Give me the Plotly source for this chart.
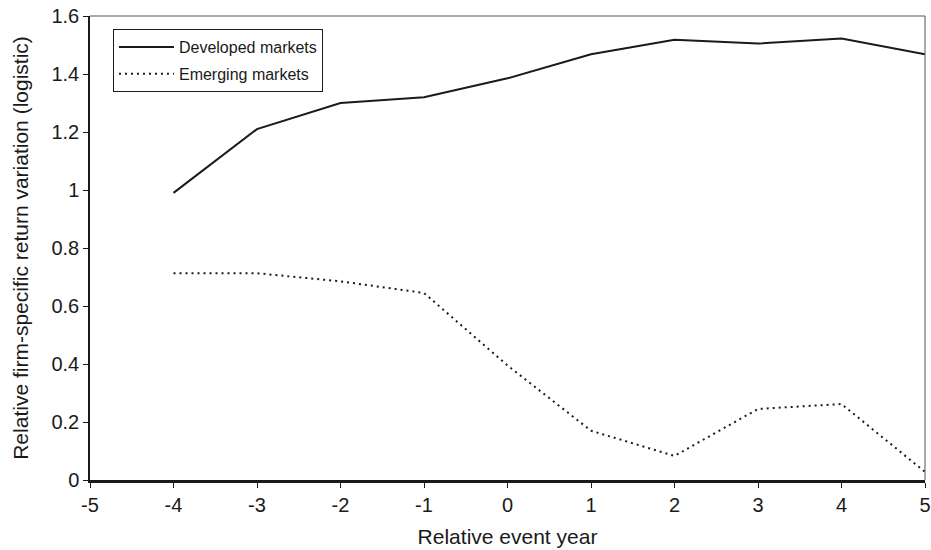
import plotly.graph_objects as go

years = [-4, -3, -2, -1, 0, 1, 2, 3, 4, 5]
developed = [0.99, 1.21, 1.30, 1.32, 1.385, 1.468, 1.518, 1.505, 1.522, 1.468]
emerging = [0.713, 0.713, 0.685, 0.645, 0.395, 0.17, 0.083, 0.245, 0.262, 0.028]

x_tickvals = [-5, -4, -3, -2, -1, 0, 1, 2, 3, 4, 5]
x_ticktext = ["-5", "-4", "-3", "-2", "-1", "0", "1", "2", "3", "4", "5"]
y_tickvals = [0, 0.2, 0.4, 0.6, 0.8, 1, 1.2, 1.4, 1.6]
y_ticktext = ["0", "0.2", "0.4", "0.6", "0.8", "1", "1.2", "1.4", "1.6"]

fig = go.Figure()
fig.add_trace(go.Scatter(x=years, y=developed, mode="lines", name="Developed markets",
                         legendgroup="dev",
                         line=dict(color="#1a1a1a", width=2)))
fig.add_trace(go.Scatter(x=years, y=emerging, mode="lines", name="Emerging markets",
                         legendgroup="emg",
                         line=dict(color="#1a1a1a", width=2, dash="2px,4px")))

font = "Liberation Sans, Arial, sans-serif"
fig.update_layout(
    width=931, height=550,
    margin=dict(l=90, r=6, t=16, b=70),
    paper_bgcolor="white", plot_bgcolor="white",
    font=dict(family=font, size=20, color="#1a1a1a"),
    showlegend=True,
    legend=dict(x=0.0275, y=0.972, xanchor="left", yanchor="top",
                bgcolor="white", bordercolor="#1a1a1a", borderwidth=1,
                font=dict(size=16, family=font), tracegroupgap=3,
                itemwidth=55),
    xaxis=dict(range=[-5, 5], tickvals=x_tickvals, ticktext=x_ticktext,
               showgrid=False, zeroline=False, showline=True, linecolor="#1a1a1a",
               linewidth=2.5, ticks="outside", ticklen=5, tickcolor="#1a1a1a",
               automargin=False, tickfont=dict(size=20), ticklabeloverflow="allow",
               title=dict(text="Relative event year", font=dict(size=21), standoff=15)),
    yaxis=dict(range=[0, 1.6], tickvals=y_tickvals, ticktext=y_ticktext,
               showgrid=False, zeroline=False, showline=True, linecolor="#1a1a1a",
               linewidth=1.5, ticks="outside", ticklen=5, tickcolor="#1a1a1a",
               automargin=False, tickfont=dict(size=20), ticklabeloverflow="allow",
               title=dict(text="Relative firm-specific return variation (logistic)",
                          font=dict(size=21), standoff=17)),
)
# top and right frame lines
fig.add_shape(type="line", xref="paper", yref="paper", x0=0, x1=1, y0=1, y1=1,
              line=dict(color="#555555", width=1))
fig.add_shape(type="line", xref="paper", yref="paper", x0=1, x1=1, y0=0, y1=1,
              line=dict(color="#555555", width=1))

fig.write_html("out.html", config={"displayModeBar": False},
               post_script="document.body.style.margin='0';document.body.style.overflow='hidden';")
